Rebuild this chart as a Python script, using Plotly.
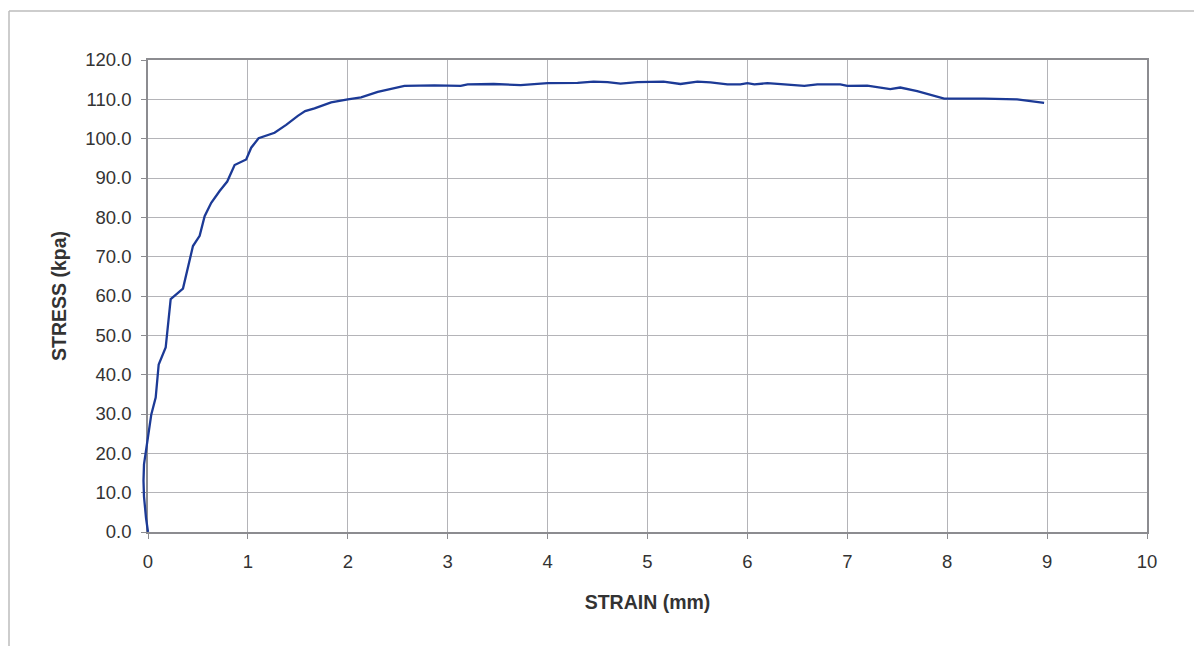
import plotly.graph_objects as go

strain = [0.0, -0.02, -0.04, -0.045, -0.04, 0.0, 0.033, 0.077, 0.107, 0.177, 0.227, 0.283, 0.35,
          0.45, 0.517, 0.567, 0.633, 0.717, 0.793, 0.867, 0.983, 1.033, 1.107, 1.267, 1.383,
          1.5, 1.573, 1.667, 1.833, 2.0, 2.133, 2.3, 2.4, 2.567, 2.867, 3.13, 3.2, 3.46, 3.73,
          4.0, 4.3, 4.46, 4.6, 4.73, 4.9, 5.16, 5.33, 5.5, 5.63, 5.8, 5.93, 6.0, 6.07, 6.2,
          6.37, 6.57, 6.7, 6.93, 7.0, 7.2, 7.43, 7.53, 7.7, 7.87, 7.97, 8.37, 8.7, 8.97]
stress = [0.0, 3.6, 9.0, 13.0, 17.2, 24.8, 29.9, 34.2, 42.6, 46.9, 59.2, 60.4, 61.9,
          72.7, 75.3, 80.3, 83.7, 86.7, 89.1, 93.3, 94.7, 97.7, 100.1, 101.5, 103.5,
          105.8, 107.0, 107.7, 109.2, 110.0, 110.5, 111.9, 112.5, 113.4, 113.55, 113.4, 113.8, 113.9, 113.6,
          114.1, 114.2, 114.5, 114.4, 114.0, 114.4, 114.5, 113.9, 114.5, 114.3, 113.8, 113.8, 114.1, 113.8, 114.1,
          113.8, 113.4, 113.8, 113.8, 113.4, 113.5, 112.6, 113.0, 112.1, 110.8, 110.2, 110.2, 110.0, 109.1]

x_ticks = list(range(0, 11))
y_ticks = [i * 10 for i in range(13)]
y_labels = [f"{v:.1f}" for v in y_ticks]

W, H = 1202, 646
EXTRA = 12                      # extra room on the left so the curve is not clipped
ML, MR, MT, MB = 140 - EXTRA, 63, 52, 122
OFF = 7  # page offset of the figure in the browser
pw = W - ML - MR
ph = H - MT - MB
dom0 = EXTRA / pw
x_per_px = 10.0 / (pw - EXTRA)

fig = go.Figure()
# invisible copy on the main axes so that they are drawn
fig.add_trace(go.Scatter(x=strain, y=stress, mode="lines",
                         line=dict(color="rgba(0,0,0,0)", width=0),
                         showlegend=False, hoverinfo="skip"))
# visible curve on a wider overlay subplot so the part left of 0 is not clipped
fig.add_trace(go.Scatter(x=strain, y=stress, mode="lines", cliponaxis=False,
                         xaxis="x2", yaxis="y2",
                         line=dict(color="#1c3a96", width=2.3, shape="linear"),
                         showlegend=False, hoverinfo="skip"))

grid = "#b4b4b8"
axcol = "#8c8c90"
txt = "#333333"
fig.update_layout(
    width=W, height=H,
    margin=dict(l=ML, r=MR, t=MT, b=MB),
    paper_bgcolor="white", plot_bgcolor="rgba(0,0,0,0)",
    font=dict(family="Liberation Sans, Arial, sans-serif", size=18.5, color=txt),
    xaxis=dict(domain=[dom0, 1], range=[0, 10], tickvals=x_ticks, ticktext=[str(v) for v in x_ticks],
               showgrid=True, gridcolor=grid, gridwidth=1, zeroline=False,
               showline=True, linecolor=axcol, linewidth=1.5, mirror=True,
               ticks="outside", ticklen=5, tickcolor=axcol, ticklabelstandoff=7,
               title=dict(text="<b>STRAIN (mm)</b>", font=dict(size=19.5, color=txt), standoff=24)),
    yaxis=dict(range=[0, 120], tickvals=y_ticks, ticktext=y_labels,
               showgrid=True, gridcolor=grid, gridwidth=1, zeroline=False,
               showline=True, linecolor=axcol, linewidth=1.5, mirror=True,
               ticks="outside", ticklen=5, tickcolor=axcol, ticklabelstandoff=6,
               title=dict(text="<b>STRESS (kpa)</b>", font=dict(size=19.5, color=txt), standoff=13)),
    xaxis2=dict(domain=[0, 1], range=[-EXTRA * x_per_px, 10], visible=False, anchor="y2"),
    yaxis2=dict(domain=[0, 1], range=[0, 120], visible=False, anchor="x2"),
)

def px_x(p):
    return (p - OFF - ML) / pw
def px_y(p):
    return (H - MB - (p - OFF)) / ph
fig.add_shape(type="line", xref="paper", yref="paper", x0=px_x(8), x1=px_x(1210), y0=px_y(10), y1=px_y(10),
              line=dict(color="#bdbdbd", width=1.5))
fig.add_shape(type="line", xref="paper", yref="paper", x0=px_x(8), x1=px_x(8), y0=px_y(10), y1=px_y(660),
              line=dict(color="#bdbdbd", width=1.5))

fig.write_html("out.html")
